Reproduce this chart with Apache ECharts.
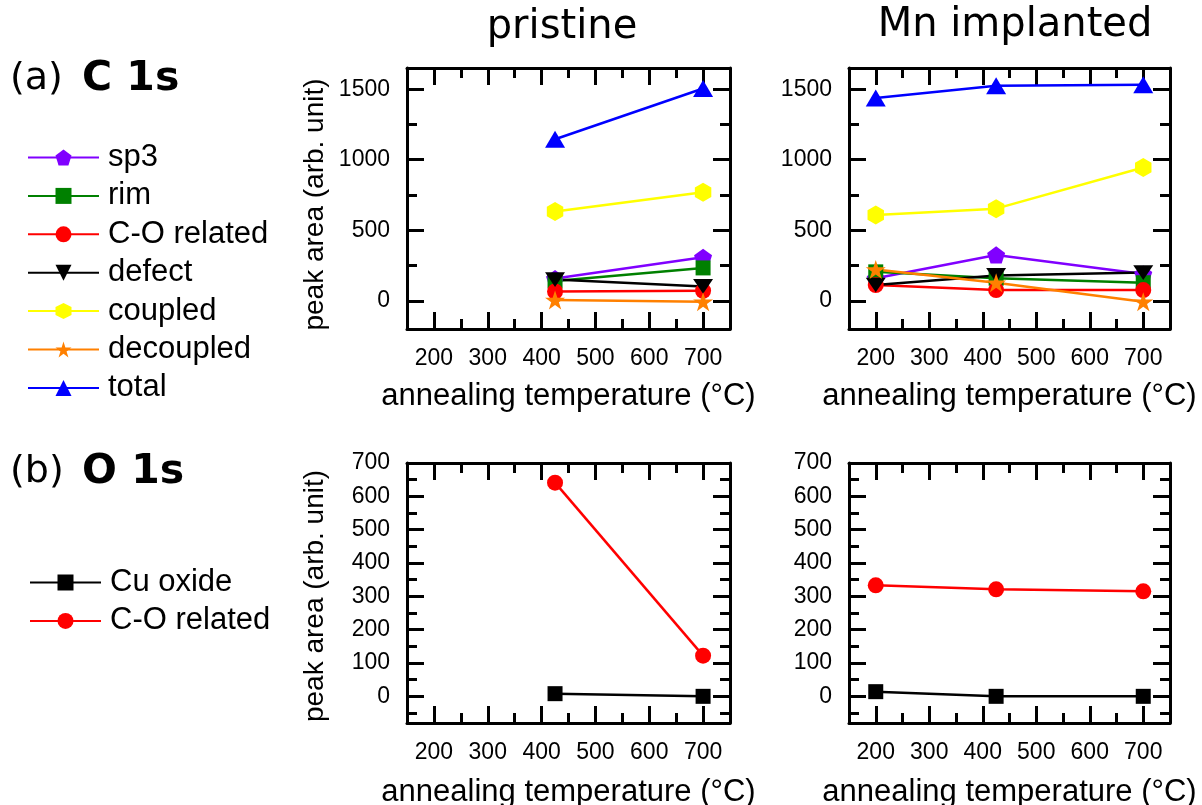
<!DOCTYPE html>
<html>
<head>
<meta charset="utf-8">
<script src="https://cdn.jsdelivr.net/npm/echarts@6/dist/echarts.min.js"></script>
<style>
  html, body { margin: 0; padding: 0; background: #fff; }
  #chart { width: 1202px; height: 805px; }
</style>
</head>
<body>
<div id="chart"></div>
<script>
// Annealing temperatures (°C)
const tempsPristine = [425, 700];
const tempsMn = [200, 425, 700];

// C 1s peak areas (arb. unit), pristine sample
const c1sPristineSp3 = [158, 308];
const c1sPristineRim = [140, 233];
const c1sPristineCO = [66, 71];
const c1sPristineDefect = [150, 102];
const c1sPristineCoupled = [633, 770];
const c1sPristineDecoupled = [5, -7];
const c1sPristineTotal = [1145, 1505];

// C 1s peak areas (arb. unit), Mn implanted sample
const c1sMnSp3 = [160, 325, 190];
const c1sMnRim = [205, 160, 128];
const c1sMnCO = [112, 76, 76];
const c1sMnDefect = [112, 180, 200];
const c1sMnCoupled = [608, 653, 945];
const c1sMnDecoupled = [222, 128, -7];
const c1sMnTotal = [1438, 1525, 1532];

// O 1s peak areas (arb. unit)
const o1sPristineCuOxide = [8, 0];
const o1sPristineCO = [641, 122];
const o1sMnCuOxide = [14, 0, 0];
const o1sMnCO = [333, 321, 315];

// Tick positions
const xMajorTicks = [200, 300, 400, 500, 600, 700];
const xMinorTicks = [250, 350, 450, 550, 650];
const c1sMajorTicks = [0, 500, 1000, 1500];
const c1sMinorTicks = [250, 750, 1250];
const o1sMajorTicks = [0, 100, 200, 300, 400, 500, 600, 700];
const o1sMinorTicks = [-50, 50, 150, 250, 350, 450, 550, 650];

// Labels
const c1sNames = ['sp3', 'rim', 'C-O related', 'defect', 'coupled', 'decoupled', 'total'];
const o1sNames = ['Cu oxide', 'C-O related'];
const xTitle = 'annealing temperature (\u00B0C)';
const yTitle = 'peak area (arb. unit)';

const FONT = 'Liberation Sans, Arial, sans-serif';
const TITLE_FONT = 'DejaVu Sans, Verdana, sans-serif';

// Marker shapes
const PENTAGON = 'path://M10,0 L19.51,6.91 L15.88,18.09 L4.12,18.09 L0.49,6.91 Z';
const HEXAGON = 'path://M10,0 L18.66,5 L18.66,15 L10,20 L1.34,15 L1.34,5 Z';
const STAR = 'path://M10,0 L12.245,6.91 L19.511,6.91 L13.633,11.18 L15.878,18.09 L10,13.82 L4.122,18.09 L6.367,11.18 L0.489,6.91 L7.755,6.91 Z';
const DOWN_TRIANGLE = 'path://M0,0 L20,0 L10,17.3 Z';

const styles = {
  'sp3':         { color: '#8000ff', symbol: PENTAGON, size: 18 },
  'rim':         { color: '#008000', symbol: 'rect', size: 15 },
  'C-O related': { color: '#ff0000', symbol: 'circle', size: 16 },
  'defect':      { color: '#000000', symbol: DOWN_TRIANGLE, size: [20, 17] },
  'coupled':     { color: '#ffff00', symbol: HEXAGON, size: 19 },
  'decoupled':   { color: '#ff8000', symbol: STAR, size: 20 },
  'total':       { color: '#0000ff', symbol: 'triangle', size: [20, 17] },
  'Cu oxide':    { color: '#000000', symbol: 'rect', size: 15 }
};

// Plot boxes in pixels; outer bounds are not enforced so the boxes stay put
const grids = [
  { left: 407, top: 68, width: 323, height: 261, outerBoundsMode: 'none', containLabel: false },
  { left: 849, top: 68, width: 321, height: 261, outerBoundsMode: 'none', containLabel: false },
  { left: 407, top: 463, width: 323, height: 260, outerBoundsMode: 'none', containLabel: false },
  { left: 849, top: 463, width: 321, height: 260, outerBoundsMode: 'none', containLabel: false }
];

const MAJOR_LEN = 17;
const MINOR_LEN = 10;
const tickLine = { color: '#000', width: 3 };
const frameLine = { show: true, onZero: false, lineStyle: { color: '#000', width: 3 } };
const hiddenLine = { show: false, onZero: false };
const labelStyle = { fontSize: 23, fontFamily: FONT, color: '#000', formatter: (v) => String(v) };
const xNameStyle = { fontSize: 31, fontFamily: FONT, color: '#000' };

// Each grid gets a framed box: major and minor ticks on all four sides
function xAxesFor(gridIndex, nameGap) {
  const base = { type: 'value', gridIndex, min: 150, max: 750, splitLine: { show: false } };
  return [
    Object.assign({}, base, {
      position: 'bottom', axisLine: frameLine,
      axisTick: { show: true, inside: true, length: MAJOR_LEN, customValues: xMajorTicks, lineStyle: tickLine },
      axisLabel: Object.assign({ show: true, margin: 18, customValues: xMajorTicks }, labelStyle),
      name: xTitle, nameLocation: 'middle', nameGap, nameTextStyle: xNameStyle
    }),
    Object.assign({}, base, {
      position: 'bottom', axisLine: hiddenLine,
      axisTick: { show: true, inside: true, length: MINOR_LEN, customValues: xMinorTicks, lineStyle: tickLine },
      axisLabel: { show: false }
    }),
    Object.assign({}, base, {
      position: 'top', axisLine: frameLine,
      axisTick: { show: true, inside: true, length: MAJOR_LEN, customValues: xMajorTicks, lineStyle: tickLine },
      axisLabel: { show: false }
    }),
    Object.assign({}, base, {
      position: 'top', axisLine: hiddenLine,
      axisTick: { show: true, inside: true, length: MINOR_LEN, customValues: xMinorTicks, lineStyle: tickLine },
      axisLabel: { show: false }
    })
  ];
}

function yAxesFor(gridIndex, min, max, major, minor, nameShift) {
  const base = { type: 'value', gridIndex, min, max, splitLine: { show: false } };
  const main = Object.assign({}, base, {
    position: 'left', axisLine: frameLine,
    axisTick: { show: true, inside: true, length: MAJOR_LEN, customValues: major, lineStyle: tickLine },
    axisLabel: Object.assign({ show: true, margin: 17, customValues: major }, labelStyle)
  });
  if (nameShift !== null) {
    Object.assign(main, {
      name: yTitle, nameLocation: 'middle', nameGap: 78,
      nameTextStyle: { fontSize: 28, fontFamily: FONT, color: '#000', padding: [0, nameShift, 0, 0] }
    });
  }
  return [
    main,
    Object.assign({}, base, {
      position: 'left', axisLine: hiddenLine,
      axisTick: { show: true, inside: true, length: MINOR_LEN, customValues: minor, lineStyle: tickLine },
      axisLabel: { show: false }
    }),
    Object.assign({}, base, {
      position: 'right', axisLine: frameLine,
      axisTick: { show: true, inside: true, length: MAJOR_LEN, customValues: major, lineStyle: tickLine },
      axisLabel: { show: false }
    }),
    Object.assign({}, base, {
      position: 'right', axisLine: hiddenLine,
      axisTick: { show: true, inside: true, length: MINOR_LEN, customValues: minor, lineStyle: tickLine },
      axisLabel: { show: false }
    })
  ];
}

const xAxis = [].concat(xAxesFor(0, 52), xAxesFor(1, 52), xAxesFor(2, 54), xAxesFor(3, 54));
const yAxis = [].concat(
  yAxesFor(0, -200, 1650, c1sMajorTicks, c1sMinorTicks, 12),
  yAxesFor(1, -200, 1650, c1sMajorTicks, c1sMinorTicks, null),
  yAxesFor(2, -80, 700, o1sMajorTicks, o1sMinorTicks, 6),
  yAxesFor(3, -80, 700, o1sMajorTicks, o1sMinorTicks, null)
);

function line(name, temps, values, gridIndex) {
  const s = styles[name];
  return {
    name,
    type: 'line',
    xAxisIndex: gridIndex * 4,
    yAxisIndex: gridIndex * 4,
    data: temps.map((t, i) => [t, values[i]]),
    symbol: s.symbol,
    symbolSize: s.size,
    symbolKeepAspect: true,
    showSymbol: true,
    lineStyle: { color: s.color, width: 2.5 },
    itemStyle: { color: s.color, borderWidth: 0 },
    emphasis: { disabled: true },
    z: 3
  };
}

const series = [
  line('sp3', tempsPristine, c1sPristineSp3, 0),
  line('rim', tempsPristine, c1sPristineRim, 0),
  line('C-O related', tempsPristine, c1sPristineCO, 0),
  line('defect', tempsPristine, c1sPristineDefect, 0),
  line('coupled', tempsPristine, c1sPristineCoupled, 0),
  line('decoupled', tempsPristine, c1sPristineDecoupled, 0),
  line('total', tempsPristine, c1sPristineTotal, 0),

  line('sp3', tempsMn, c1sMnSp3, 1),
  line('rim', tempsMn, c1sMnRim, 1),
  line('C-O related', tempsMn, c1sMnCO, 1),
  line('defect', tempsMn, c1sMnDefect, 1),
  line('coupled', tempsMn, c1sMnCoupled, 1),
  line('decoupled', tempsMn, c1sMnDecoupled, 1),
  line('total', tempsMn, c1sMnTotal, 1),

  line('Cu oxide', tempsPristine, o1sPristineCuOxide, 2),
  line('C-O related', tempsPristine, o1sPristineCO, 2),
  line('Cu oxide', tempsMn, o1sMnCuOxide, 3),
  line('C-O related', tempsMn, o1sMnCO, 3)
];

const legendText = { fontSize: 31, fontFamily: FONT, color: '#000', lineHeight: 30, padding: [0, 0, 0, 4] };

const option = {
  animation: false,
  backgroundColor: '#ffffff',
  grid: grids,
  xAxis,
  yAxis,
  series,
  legend: [
    {
      data: c1sNames, orient: 'vertical', left: 27, top: 142, padding: 0,
      itemWidth: 71, itemHeight: 20, itemGap: 7.4, selectedMode: false,
      textStyle: legendText
    },
    {
      data: o1sNames, orient: 'vertical', left: 29, top: 567, padding: 0,
      itemWidth: 71, itemHeight: 20, itemGap: 7.4, selectedMode: false,
      textStyle: legendText
    }
  ],
  graphic: [
    { type: 'text', x: 562, y: 28, style: { text: 'pristine', font: '40px ' + TITLE_FONT, fill: '#000', textAlign: 'center', textVerticalAlign: 'middle' } },
    { type: 'text', x: 1015, y: 26, style: { text: 'Mn implanted', font: '40px ' + TITLE_FONT, fill: '#000', textAlign: 'center', textVerticalAlign: 'middle' } },
    { type: 'text', x: 10, y: 79, style: { text: '(a)', font: '38px ' + TITLE_FONT, fill: '#000', textAlign: 'left', textVerticalAlign: 'middle' } },
    { type: 'text', x: 82, y: 79, style: { text: 'C 1s', font: 'bold 41px ' + TITLE_FONT, fill: '#000', textAlign: 'left', textVerticalAlign: 'middle' } },
    { type: 'text', x: 10, y: 472, style: { text: '(b)', font: '38px ' + TITLE_FONT, fill: '#000', textAlign: 'left', textVerticalAlign: 'middle' } },
    { type: 'text', x: 82, y: 472, style: { text: 'O 1s', font: 'bold 41px ' + TITLE_FONT, fill: '#000', textAlign: 'left', textVerticalAlign: 'middle' } }
  ]
};

const chart = echarts.init(document.getElementById('chart'), null, { renderer: 'canvas' });
chart.setOption(option);
</script>
</body>
</html>
